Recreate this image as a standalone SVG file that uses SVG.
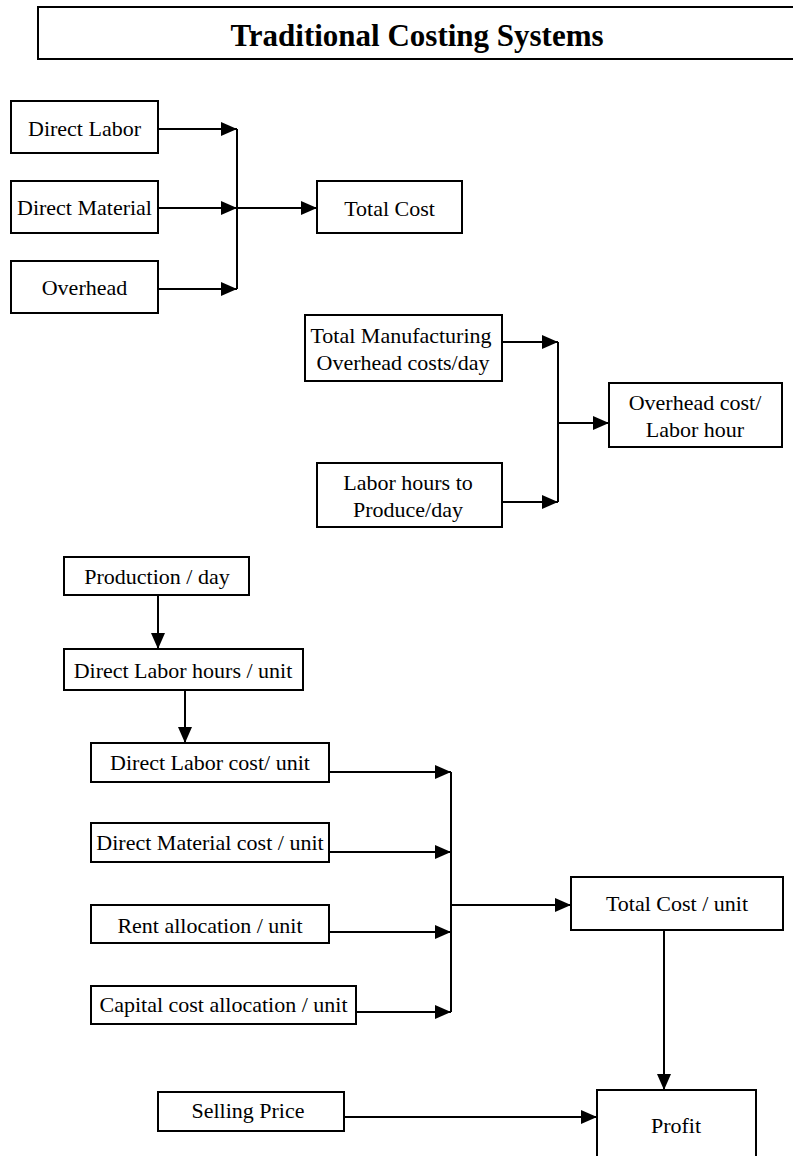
<svg xmlns="http://www.w3.org/2000/svg" width="793" height="1156" viewBox="0 0 793 1156">
<style>
.box{fill:#fff;stroke:#000;stroke-width:2}
.t{font-family:"Liberation Serif","Times New Roman",serif;font-size:22px;fill:#000;text-anchor:middle}
.title{font-family:"Liberation Serif","Times New Roman",serif;font-size:31px;font-weight:bold;fill:#000;text-anchor:middle}
.c{fill:none;stroke:#000;stroke-width:2}
</style>
<defs>
<marker id="ah" markerUnits="userSpaceOnUse" markerWidth="18" markerHeight="16" refX="16" refY="8" orient="auto">
<path d="M0,1 L16,8 L0,15 Z" fill="#000"/>
</marker>
</defs>
<rect width="793" height="1156" fill="#fff"/>
<g id="title">
<rect class="box" x="38" y="7" width="770" height="52"/>
<text class="title" x="417" y="46">Traditional Costing Systems</text>
</g>
<g id="connectors">
<line class="c" x1="158" y1="129" x2="237" y2="129" marker-end="url(#ah)"/>
<line class="c" x1="158" y1="208" x2="237" y2="208" marker-end="url(#ah)"/>
<line class="c" x1="158" y1="289" x2="237" y2="289" marker-end="url(#ah)"/>
<line class="c" x1="237" y1="129" x2="237" y2="289"/>
<line class="c" x1="237" y1="208" x2="317" y2="208" marker-end="url(#ah)"/>
<line class="c" x1="502" y1="342" x2="558" y2="342" marker-end="url(#ah)"/>
<line class="c" x1="502" y1="502" x2="558" y2="502" marker-end="url(#ah)"/>
<line class="c" x1="558" y1="342" x2="558" y2="502"/>
<line class="c" x1="558" y1="423" x2="609" y2="423" marker-end="url(#ah)"/>
<line class="c" x1="158" y1="595" x2="158" y2="649" marker-end="url(#ah)"/>
<line class="c" x1="185" y1="690" x2="185" y2="743" marker-end="url(#ah)"/>
<line class="c" x1="329" y1="772" x2="451" y2="772" marker-end="url(#ah)"/>
<line class="c" x1="329" y1="852" x2="451" y2="852" marker-end="url(#ah)"/>
<line class="c" x1="329" y1="932" x2="451" y2="932" marker-end="url(#ah)"/>
<line class="c" x1="356" y1="1012" x2="451" y2="1012" marker-end="url(#ah)"/>
<line class="c" x1="451" y1="772" x2="451" y2="1012"/>
<line class="c" x1="451" y1="905" x2="571" y2="905" marker-end="url(#ah)"/>
<line class="c" x1="664" y1="930" x2="664" y2="1090" marker-end="url(#ah)"/>
<line class="c" x1="344" y1="1117" x2="597" y2="1117" marker-end="url(#ah)"/>
</g>
<g id="direct-labor">
<rect class="box" x="11" y="101" width="147" height="52"/>
<text class="t" x="84.5" y="136">Direct Labor</text>
</g>
<g id="direct-material">
<rect class="box" x="11" y="181" width="147" height="52"/>
<text class="t" x="84.5" y="215">Direct Material</text>
</g>
<g id="overhead">
<rect class="box" x="11" y="261" width="147" height="52"/>
<text class="t" x="84.5" y="295">Overhead</text>
</g>
<g id="total-cost">
<rect class="box" x="317" y="181" width="145" height="52"/>
<text class="t" x="389.5" y="216">Total Cost</text>
</g>
<g id="total-manufacturing">
<rect class="box" x="305" y="315" width="197" height="66"/>
<text class="t" x="401" y="343">Total Manufacturing</text>
<text class="t" x="403" y="370">Overhead costs/day</text>
</g>
<g id="labor-hours">
<rect class="box" x="317" y="463" width="185" height="64"/>
<text class="t" x="408" y="490">Labor hours to</text>
<text class="t" x="408" y="517">Produce/day</text>
</g>
<g id="overhead-per-hour">
<rect class="box" x="609" y="383" width="173" height="64"/>
<text class="t" x="695" y="410">Overhead cost/</text>
<text class="t" x="695" y="437">Labor hour</text>
</g>
<g id="production-day">
<rect class="box" x="64" y="557" width="185" height="38"/>
<text class="t" x="157" y="584">Production / day</text>
</g>
<g id="dl-hours-unit">
<rect class="box" x="64" y="649" width="239" height="41"/>
<text class="t" x="183" y="678">Direct Labor hours / unit</text>
</g>
<g id="dl-cost-unit">
<rect class="box" x="91" y="743" width="238" height="39"/>
<text class="t" x="210" y="770">Direct Labor cost/ unit</text>
</g>
<g id="dm-cost-unit">
<rect class="box" x="91" y="823" width="238" height="39"/>
<text class="t" x="210" y="850">Direct Material cost / unit</text>
</g>
<g id="rent-unit">
<rect class="box" x="91" y="905" width="238" height="38"/>
<text class="t" x="210" y="933">Rent allocation / unit</text>
</g>
<g id="capital-unit">
<rect class="box" x="91" y="986" width="265" height="38"/>
<text class="t" x="223.5" y="1012">Capital cost allocation / unit</text>
</g>
<g id="total-cost-unit">
<rect class="box" x="571" y="877" width="212" height="53"/>
<text class="t" x="677" y="911">Total Cost / unit</text>
</g>
<g id="selling-price">
<rect class="box" x="158" y="1092" width="186" height="39"/>
<text class="t" x="248" y="1118">Selling Price</text>
</g>
<g id="profit">
<rect class="box" x="597" y="1090" width="159" height="80"/>
<text class="t" x="676" y="1133">Profit</text>
</g>
</svg>
